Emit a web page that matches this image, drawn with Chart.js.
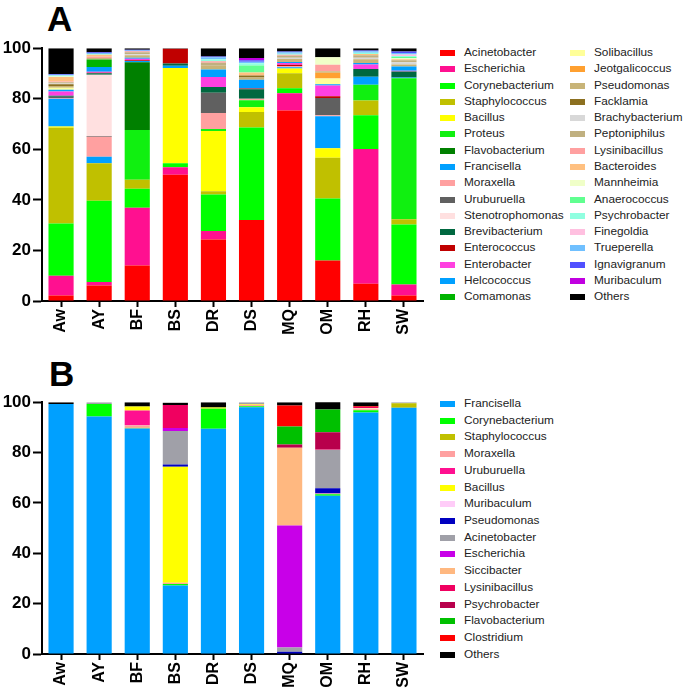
<!DOCTYPE html>
<html>
<head>
<meta charset="utf-8">
<script src="https://cdn.jsdelivr.net/npm/chart.js@4"></script>
<style>
  body { margin: 0; background: #fff; width: 685px; height: 694px; position: relative; overflow: hidden; font-family: Arial, "Liberation Sans", sans-serif; }
  canvas { position: absolute; left: 0; }
  .panel { position: absolute; font-weight: bold; font-size: 35px; color: #000; line-height: 1; }
  .legend { position: absolute; font-size: 11.8px; color: #222; }
  .item { position: absolute; white-space: nowrap; }
  .sw { position: absolute; width: 15px; height: 6px; }
  .txt { position: absolute; }
</style>
</head>
<body>
<div class="panel" style="left:47px; top:1px;">A</div>
<div class="panel" style="left:49px; top:356px;">B</div>
<canvas id="chartA" width="430" height="310" style="top:36px"></canvas>
<canvas id="chartB" width="430" height="304" style="top:390px"></canvas>
<div id="legendA" class="legend"></div>
<div id="legendB" class="legend"></div>
<script>
const samples = ["Aw", "AY", "BF", "BS", "DR", "DS", "MQ", "OM", "RH", "SW"];
const yTicks = [0, 20, 40, 60, 80, 100];

// panel A genera, values per sample (%)
const namesA = ["Acinetobacter", "Escherichia", "Corynebacterium", "Staphylococcus", "Bacillus", "Proteus",
  "Flavobacterium", "Francisella", "Moraxella", "Uruburuella", "Stenotrophomonas", "Brevibacterium",
  "Enterococcus", "Enterobacter", "Helcococcus", "Comamonas", "Solibacillus", "Jeotgalicoccus",
  "Pseudomonas", "Facklamia", "Brachybacterium", "Peptoniphilus", "Lysinibacillus", "Bacteroides",
  "Mannheimia", "Anaerococcus", "Psychrobacter", "Finegoldia", "Trueperella", "Ignavigranum",
  "Muribaculum", "Others"];
const colorsA = ["#ff0000", "#ff1090", "#00ff00", "#c0c000", "#ffff00", "#10f010",
  "#008000", "#00a0ff", "#ffa0a0", "#606060", "#ffe0e0", "#006840",
  "#c00000", "#ff40e0", "#00a0ff", "#00b400", "#ffff99", "#ffa030",
  "#c8b478", "#8c7020", "#d8d8d8", "#c0b080", "#ffa0a0", "#ffc080",
  "#f0ffc8", "#60ff90", "#90ffe0", "#ffc0e0", "#70c0ff", "#5050ff",
  "#c000e0", "#000000"];

const A_Acinetobacter    = [2.2, 6.1, 14, 49.9, 24.3, 32, 75.4, 16, 6.8, 2.2];
const A_Escherichia      = [7.8, 1.4, 22.9, 3, 3.4, 0, 6.8, 0, 53.3, 4.3];
const A_Corynebacterium  = [20.7, 32.2, 7.5, 1.6, 14.4, 36.6, 2, 24.5, 13.4, 23.8];
const A_Staphylococcus   = [37.8, 14.8, 3.6, 0, 1.3, 6.2, 5.9, 16.2, 5.8, 2];
const A_Bacillus         = [0.5, 0, 0, 37.7, 23.8, 1.8, 1.9, 3.7, 0, 0];
const A_Proteus          = [0, 0, 19.6, 0, 0.8, 2.8, 0, 0, 6.2, 55.8];
const A_Flavobacterium   = [0, 0, 26.8, 0, 0, 0, 0, 0, 0, 0];
const A_Francisella      = [11, 2.6, 0.5, 0.9, 0, 0, 0.5, 12.7, 3.2, 0.3];
const A_Moraxella        = [0.3, 7.9, 0, 0, 6.4, 0.6, 0.4, 0.4, 0, 0];
const A_Uruburuella      = [0.5, 0.3, 0, 0, 8, 0, 0, 6.8, 0, 0];
const A_Stenotrophomonas = [0, 24.2, 0, 0, 0, 0, 0, 0, 0, 0];
const A_Brevibacterium   = [0.4, 0.6, 0, 0.8, 2.3, 3.8, 0, 0, 3.1, 2.4];
const A_Enterococcus     = [0, 0.2, 0.3, 5.9, 0, 0.3, 0.6, 0.7, 0, 0];
const A_Enterobacter     = [1.7, 0.4, 0.6, 0, 3.9, 0, 0.6, 4.2, 1.8, 0.3];
const A_Helcococcus      = [0.7, 1.9, 0.4, 0, 3, 3.4, 0.4, 0.5, 0.5, 1.7];
const A_Comamonas        = [0, 2.9, 0, 0, 0, 0, 0, 0, 0, 0];
const A_Solibacillus     = [0.8, 0, 0, 0, 0, 0, 0, 2.3, 0, 0];
const A_Jeotgalicoccus   = [0, 0, 0, 0, 0, 0, 0, 2.3, 0, 0];
const A_Pseudomonas      = [0.6, 0.6, 1.0, 0, 1.5, 0.9, 1.2, 0.6, 1.5, 0.8];
const A_Facklamia        = [0.7, 0, 0, 0, 0, 0.8, 0, 0, 0, 0];
const A_Brachybacterium  = [0.3, 0, 0.4, 0, 0, 0, 0.5, 0, 0.6, 0.8];
const A_Peptoniphilus    = [0.5, 0, 0.8, 0, 1.1, 0, 0.8, 0, 1.0, 0.8];
const A_Lysinibacillus   = [0.3, 0.5, 0.4, 0, 0.6, 0, 0.4, 2.6, 0, 0];
const A_Bacteroides      = [1.8, 0.8, 0, 0, 0, 1.2, 0, 0, 0.5, 0.4];
const A_Mannheimia       = [0.2, 0, 0, 0, 0, 0, 0, 2.9, 0, 0.4];
const A_Anaerococcus     = [0, 0, 0, 0, 0, 2.8, 0, 0, 0, 0.5];
const A_Psychrobacter    = [0.4, 0.3, 0, 0, 0.8, 0.8, 0.4, 0, 0.5, 0.4];
const A_Finegoldia       = [0, 0, 0, 0, 0, 0, 0, 0, 0, 0.6];
const A_Trueperella      = [0.3, 0.4, 0.3, 0, 0.8, 0.6, 0.6, 0, 0.6, 0.6];
const A_Ignavigranum     = [0.3, 0.3, 0.3, 0, 0.3, 0.6, 0.3, 0, 0.3, 0.6];
const A_Muribaculum      = [0, 0, 0, 0, 0, 0.9, 0, 0, 0, 0];
const A_Others           = [10.2, 1.6, 0.6, 0.2, 3.3, 3.9, 1.3, 3.6, 0.9, 1.3];

const valuesA = [A_Acinetobacter, A_Escherichia, A_Corynebacterium, A_Staphylococcus, A_Bacillus, A_Proteus,
  A_Flavobacterium, A_Francisella, A_Moraxella, A_Uruburuella, A_Stenotrophomonas, A_Brevibacterium,
  A_Enterococcus, A_Enterobacter, A_Helcococcus, A_Comamonas, A_Solibacillus, A_Jeotgalicoccus,
  A_Pseudomonas, A_Facklamia, A_Brachybacterium, A_Peptoniphilus, A_Lysinibacillus, A_Bacteroides,
  A_Mannheimia, A_Anaerococcus, A_Psychrobacter, A_Finegoldia, A_Trueperella, A_Ignavigranum,
  A_Muribaculum, A_Others];

// panel B genera
const namesB = ["Francisella", "Corynebacterium", "Staphylococcus", "Moraxella", "Uruburuella", "Bacillus",
  "Muribaculum", "Pseudomonas", "Acinetobacter", "Escherichia", "Siccibacter", "Lysinibacillus",
  "Psychrobacter", "Flavobacterium", "Clostridium", "Others"];
const colorsB = ["#00a0ff", "#00ff00", "#c0c000", "#ffa0a0", "#ff1090", "#ffff00",
  "#ffccf8", "#0000c0", "#a0a0a8", "#c800e8", "#ffb880", "#f00060",
  "#b8004c", "#00c000", "#ff0000", "#000000"];

const B_Francisella     = [99.3, 94.3, 89.6, 27.2, 89.5, 98.0, 0, 62.8, 95.9, 97.8];
const B_Corynebacterium = [0, 5.0, 0, 0.6, 7.9, 0.4, 0, 0.6, 0.9, 0];
const B_Staphylococcus  = [0, 0, 0.3, 0, 0.2, 0, 0, 0, 0, 1.8];
const B_Moraxella       = [0, 0, 0.9, 0.5, 0, 0.6, 0, 0.3, 0.4, 0];
const B_Uruburuella     = [0, 0, 5.9, 0, 0, 0, 0, 0, 0, 0];
const B_Bacillus        = [0, 0, 1.6, 46.1, 0.3, 0.3, 0, 0, 0.2, 0];
const B_Muribaculum     = [0, 0, 0, 0, 0, 0, 0, 0, 0.3, 0];
const B_Pseudomonas     = [0, 0, 0, 0.9, 0, 0, 0.9, 2.1, 0, 0];
const B_Acinetobacter   = [0, 0.7, 0, 13.3, 0, 0.7, 1.7, 15.3, 0, 0.4];
const B_Escherichia     = [0, 0, 0, 1.2, 0, 0, 48.4, 0, 0, 0];
const B_Siccibacter     = [0, 0, 0, 0, 0, 0, 30.9, 0, 0, 0];
const B_Lysinibacillus  = [0, 0, 0, 9.1, 0, 0, 0, 0.3, 0.4, 0];
const B_Psychrobacter   = [0, 0, 0, 0, 0, 0, 1.3, 6.7, 0, 0];
const B_Flavobacterium  = [0, 0, 0, 0, 0, 0, 7.1, 9.0, 0, 0];
const B_Clostridium     = [0, 0, 0, 0, 0, 0, 8.4, 0, 0.3, 0];
const B_Others          = [0.7, 0, 1.7, 0.9, 2.1, 0, 1.3, 3.2, 1.6, 0];

const valuesB = [B_Francisella, B_Corynebacterium, B_Staphylococcus, B_Moraxella, B_Uruburuella, B_Bacillus,
  B_Muribaculum, B_Pseudomonas, B_Acinetobacter, B_Escherichia, B_Siccibacter, B_Lysinibacillus,
  B_Psychrobacter, B_Flavobacterium, B_Clostridium, B_Others];

const FONT = 'Arial, "Liberation Sans", sans-serif';

function makeChart(id, names, colors, values, xHeight, padTop) {
  const ctx = document.getElementById(id).getContext('2d');
  const datasets = names.map((n, i) => ({
    label: n,
    data: values[i],
    backgroundColor: colors[i],
    borderWidth: 0,
    barPercentage: 0.66,
    categoryPercentage: 1.0,
  }));
  return new Chart(ctx, {
    type: 'bar',
    data: { labels: samples, datasets: datasets },
    options: {
      responsive: false,
      animation: false,
      layout: { padding: { top: padTop, right: 7, left: 0, bottom: 0 } },
      plugins: { legend: { display: false }, tooltip: { enabled: false } },
      scales: {
        x: {
          stacked: true,
          afterFit: (scale) => { scale.height = xHeight; },
          border: { display: true, width: 2, color: '#000' },
          grid: { display: true, offset: false, drawOnChartArea: false, drawTicks: true, tickLength: 6, tickWidth: 2, tickColor: '#000' },
          ticks: { color: '#000', font: { family: FONT, size: 16, weight: 'bold' }, minRotation: 90, maxRotation: 90, padding: 2, autoSkip: false },
        },
        y: {
          stacked: true,
          min: 0,
          max: 100,
          afterFit: (scale) => { scale.width = 42; },
          afterBuildTicks: (scale) => { scale.ticks = yTicks.map(v => ({ value: v })); },
          border: { display: true, width: 2, color: '#000' },
          grid: { display: true, drawOnChartArea: false, drawTicks: true, tickLength: 9, tickWidth: 2, tickColor: '#000' },
          ticks: { color: '#000', font: { family: FONT, size: 17, weight: 'bold' }, padding: 2 },
        }
      }
    }
  });
}

function makeLegend(id, names, colors, left, top, step, perCol, colGap) {
  const box = document.getElementById(id);
  names.forEach((n, i) => {
    const col = Math.floor(i / perCol);
    const row = i % perCol;
    const item = document.createElement('div');
    item.className = 'item';
    item.style.left = (left + col * colGap) + 'px';
    item.style.top = (top + row * step) + 'px';
    const sw = document.createElement('div');
    sw.className = 'sw';
    sw.style.background = colors[i];
    sw.style.left = '0px';
    sw.style.top = '-3px';
    const t = document.createElement('div');
    t.className = 'txt';
    t.textContent = n;
    t.style.left = '24px';
    t.style.top = '-8px';
    item.appendChild(sw);
    item.appendChild(t);
    box.appendChild(item);
  });
}

makeChart('chartA', namesA, colorsA, valuesA, 45, 10);
makeChart('chartB', namesB, colorsB, valuesB, 40, 11);
makeLegend('legendA', namesA, colorsA, 440, 53, 16.29, 16, 130);
makeLegend('legendB', namesB, colorsB, 440, 404, 16.71, 16, 130);
</script>
</body>
</html>
